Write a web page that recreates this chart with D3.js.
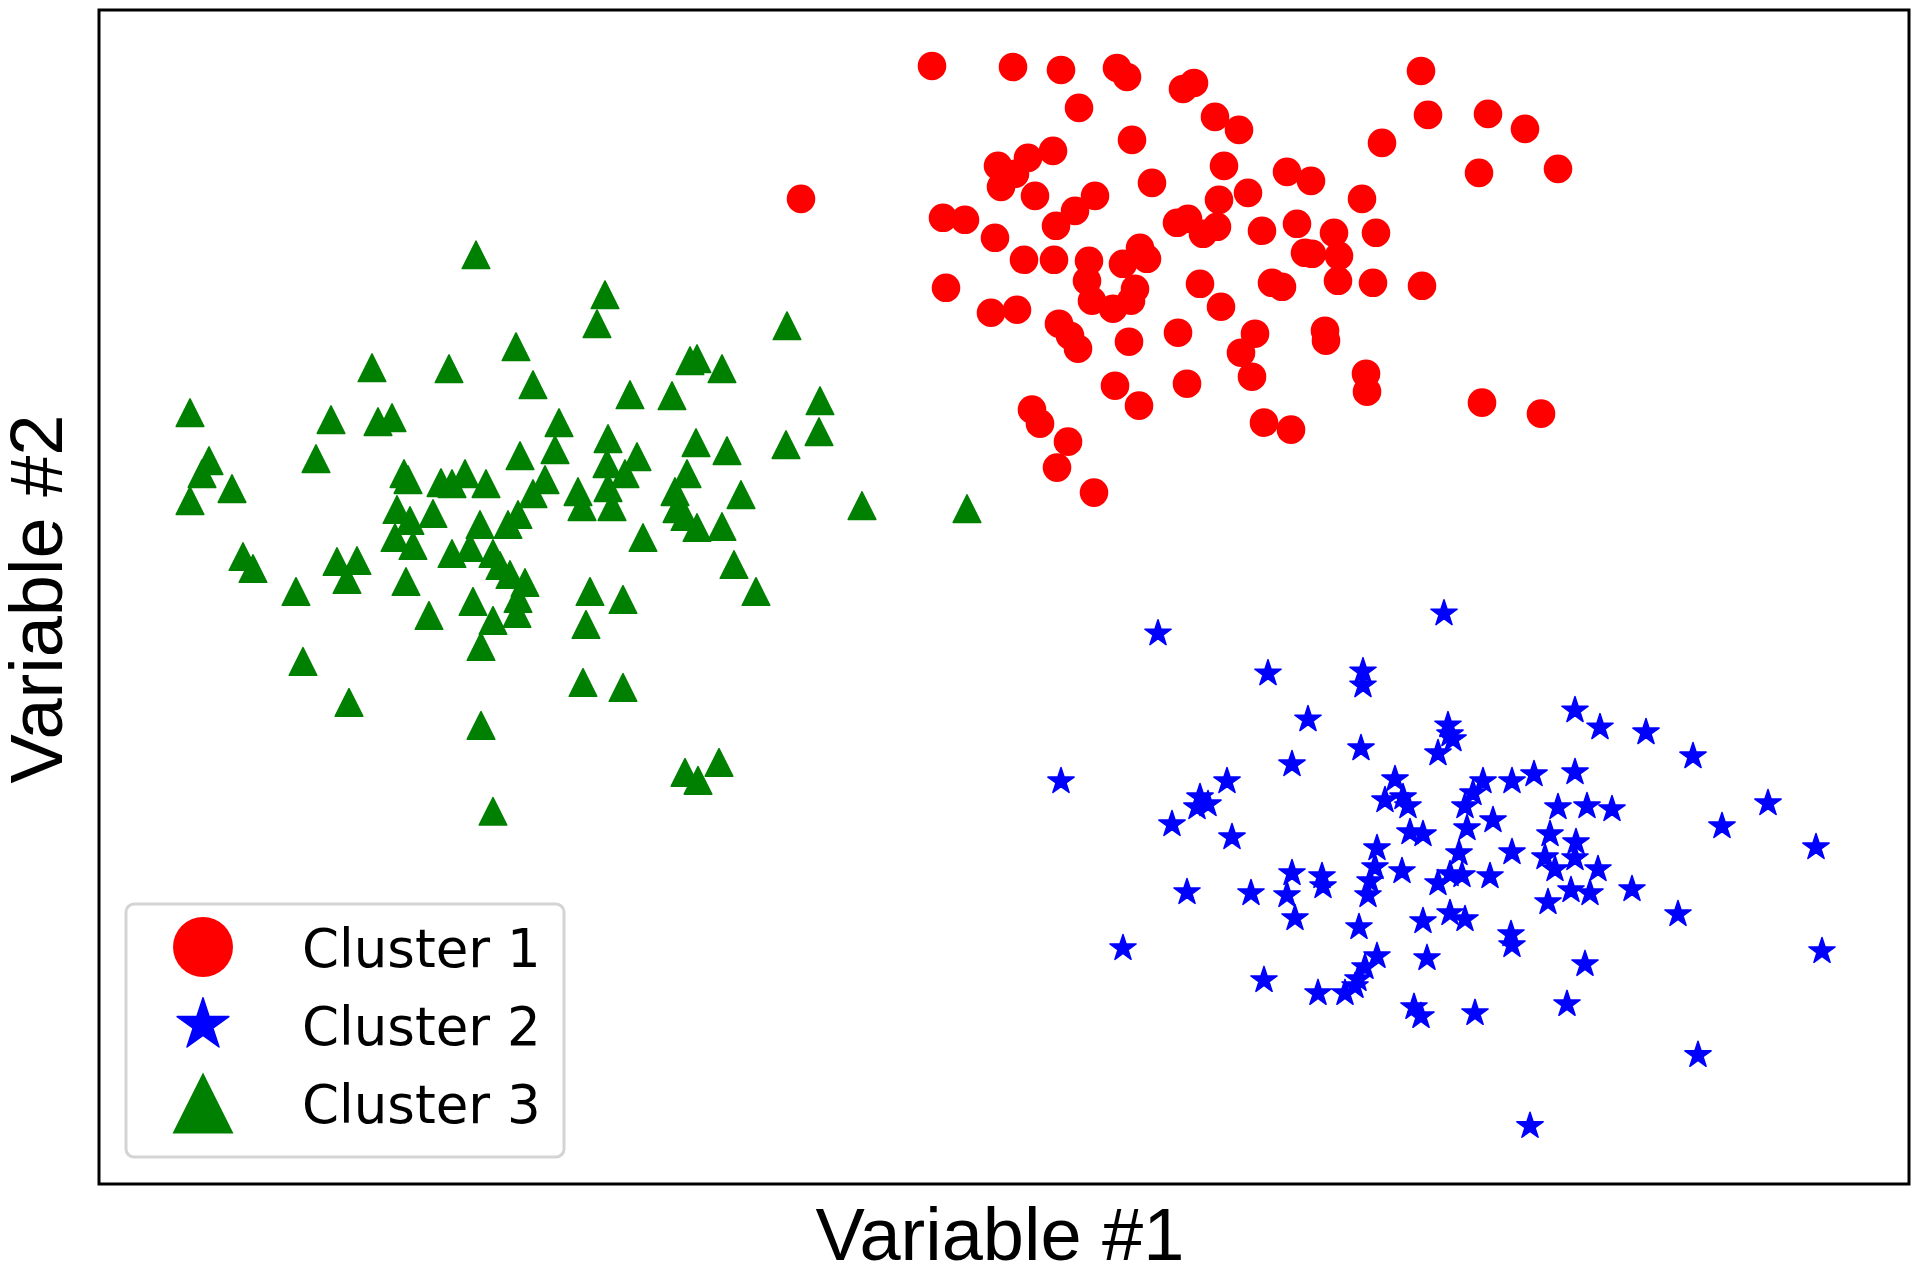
<!DOCTYPE html>
<html><head><meta charset="utf-8">
<script src="https://cdn.jsdelivr.net/npm/d3@7"></script>
<style>html,body{margin:0;padding:0;background:#fff;}svg{display:block;}</style>
</head><body>
<svg id="chart" width="1920" height="1269"></svg>
<script>
// ---- data ----
const seriesNames = ["Cluster 1", "Cluster 2", "Cluster 3"];
const seriesColors = ["#ff0000", "#0000ff", "#008000"];
const xAxisTitle = "Variable #1";
const yAxisTitle = "Variable #2";
const xDomain = [-0.01, 18.09];
const yDomain = [0.16, 11.91];

const cluster1 = [
[8.32,11.35],[9.13,11.34],[9.61,11.31],[10.17,11.33],[10.27,11.24],[9.79,10.93],[10.32,10.61],[7.01,10.02],
[8.98,10.35],[9.28,10.43],[9.53,10.50],[9.15,10.27],[9.01,10.14],[10.52,10.18],[9.35,10.05],[9.95,10.05],
[9.75,9.90],[9.56,9.75],[8.43,9.83],[8.65,9.81],[8.95,9.63],[9.24,9.41],[9.54,9.41],[9.89,9.40],
[10.40,9.53],[10.47,9.42],[10.23,9.37],[9.87,9.20],[10.35,9.12],[10.31,9.00],[9.92,9.00],[10.13,8.92],
[8.46,9.13],[8.91,8.88],[9.17,8.91],[9.59,8.77],[9.70,8.65],[9.78,8.52],[10.29,8.59],[10.15,8.15],
[10.39,7.95],[9.32,7.91],[9.40,7.77],[9.68,7.59],[9.57,7.33],[9.94,7.08],
[10.83,11.12],[10.94,11.18],[11.15,10.84],[11.39,10.71],[13.21,11.30],[13.28,10.86],[13.88,10.87],[14.25,10.72],
[12.82,10.58],[13.79,10.28],[14.58,10.32],[11.24,10.35],[11.87,10.29],[12.11,10.20],[12.62,10.02],[11.48,10.08],
[11.19,10.01],[10.77,9.78],[10.88,9.82],[11.03,9.67],[11.17,9.74],[11.62,9.70],[11.97,9.77],[12.34,9.68],
[12.76,9.68],[12.05,9.48],[12.12,9.47],[12.39,9.45],[12.38,9.20],[12.73,9.18],[13.22,9.15],[11.00,9.17],
[11.72,9.18],[11.82,9.14],[11.21,8.94],[10.78,8.68],[11.55,8.67],[11.41,8.48],[12.25,8.70],[12.26,8.60],
[10.87,8.17],[11.52,8.24],[12.66,8.27],[12.67,8.09],[13.82,7.98],[14.41,7.87],[11.64,7.78],[11.91,7.71]
];

const cluster2 = [
[10.58,5.67],[11.68,5.27],[12.63,5.29],[12.63,5.15],[12.08,4.81],[12.61,4.52],[11.92,4.36],[9.61,4.19],
[11.27,4.19],[11.00,4.03],[11.08,3.96],[10.97,3.93],[10.72,3.76],[11.32,3.63],[12.95,4.21],[12.85,4.00],
[13.03,4.03],[13.08,3.94],[13.10,3.68],[13.23,3.66],[12.77,3.52],[13.02,3.29],[12.75,3.33],[12.70,3.19],
[12.68,3.05],[11.92,3.27],[11.87,3.05],[11.95,2.82],[12.22,3.24],[12.23,3.14],[10.87,3.08],[11.51,3.07],
[12.59,2.73],[13.23,2.79],[10.23,2.52],[12.77,2.44],[12.65,2.33],[13.27,2.42],[11.64,2.20],[12.18,2.07],
[12.45,2.07],[12.55,2.14],[12.58,2.21],[13.14,1.93],[13.21,1.84],
[13.44,5.87],[14.75,4.90],[15.00,4.73],[15.46,4.68],[15.93,4.44],[16.68,3.97],[16.22,3.74],[17.16,3.53],
[13.48,4.75],[13.50,4.66],[13.53,4.61],[13.38,4.47],[13.83,4.19],[13.73,4.07],[13.65,3.94],[14.12,4.19],
[14.34,4.26],[14.75,4.28],[13.93,3.80],[13.67,3.72],[14.58,3.93],[14.87,3.94],[15.12,3.91],[14.50,3.66],
[14.76,3.58],[14.12,3.48],[13.59,3.47],[14.45,3.43],[14.55,3.31],[14.75,3.42],[14.98,3.31],[13.50,3.26],
[13.62,3.25],[13.38,3.17],[13.90,3.24],[14.71,3.10],[14.90,3.07],[15.32,3.11],[14.48,2.98],[15.78,2.86],
[13.50,2.87],[13.65,2.81],[14.11,2.66],[14.12,2.55],[14.85,2.36],[17.22,2.49],[14.67,1.96],[13.75,1.87],
[15.98,1.45],[14.30,0.74]
];

const cluster3 = [
[3.76,9.46],[4.16,8.54],[4.33,8.16],[2.72,8.33],[3.49,8.32],[0.90,7.88],[2.31,7.81],[2.78,7.79],
[2.92,7.83],[4.20,7.45],[1.09,7.40],[1.02,7.27],[0.90,7.00],[1.32,7.12],[2.16,7.42],[3.04,7.27],
[3.08,7.21],[3.41,7.18],[3.52,7.17],[3.65,7.27],[3.86,7.17],[2.97,6.91],[3.10,6.80],[3.33,6.87],
[4.45,7.21],[4.33,7.07],[4.18,6.86],[4.08,6.76],[3.80,6.76],[2.95,6.63],[3.13,6.55],[3.52,6.47],
[3.70,6.53],[3.93,6.47],[4.00,6.35],[4.10,6.26],[4.25,6.18],[4.18,6.02],[4.17,5.87],[1.43,6.44],
[1.53,6.32],[2.37,6.39],[2.57,6.40],[2.47,6.21],[1.96,6.09],[3.06,6.19],[3.29,5.85],[3.73,5.99],
[3.93,5.80],[3.81,5.54],[2.03,5.39],[2.49,4.98],[3.81,4.75],[3.93,3.89],
[5.05,9.06],[4.97,8.77],[6.87,8.75],[5.90,8.40],[5.97,8.42],[6.22,8.32],[5.30,8.06],[5.72,8.05],
[7.20,8.00],[4.59,7.78],[7.19,7.69],[6.86,7.56],[5.08,7.62],[4.55,7.51],[5.96,7.58],[6.27,7.50],
[5.37,7.44],[5.07,7.37],[5.25,7.27],[5.87,7.27],[5.08,7.13],[5.75,7.09],[4.78,7.09],[4.82,6.94],
[5.12,6.94],[6.41,7.06],[5.77,6.92],[5.85,6.84],[5.97,6.73],[6.22,6.74],[7.62,6.95],[8.67,6.92],
[5.43,6.63],[6.34,6.36],[6.56,6.09],[4.90,6.09],[5.23,6.01],[4.86,5.76],[4.83,5.18],[5.23,5.13],
[5.85,4.28],[5.98,4.20],[6.19,4.38]
];

// ---- drawing ----
const svg = d3.select("#chart");
const frame = {left: 99, right: 1909, top: 10, bottom: 1184};
const x = d3.scaleLinear().domain(xDomain).range([frame.left, frame.right]);
const y = d3.scaleLinear().domain(yDomain).range([frame.bottom, frame.top]);

function starPath(R) {
  const pts = [];
  for (let i = 0; i < 10; i++) {
    const a = -Math.PI / 2 + i * Math.PI / 5;
    const r = i % 2 === 0 ? R : R * 0.381966;
    pts.push([r * Math.cos(a), r * Math.sin(a)]);
  }
  return "M" + pts.map(p => p[0].toFixed(2) + "," + p[1].toFixed(2)).join("L") + "Z";
}
function triPath(h) {
  return `M0,${-h}L${-h},${h}L${h},${h}Z`;
}

svg.append("rect").attr("x", 0).attr("y", 0).attr("width", 1920).attr("height", 1269).attr("fill", "#fff");

const gPts = svg.append("g");
// cluster 1 circles
gPts.append("g").selectAll("circle").data(cluster1).join("circle")
  .attr("cx", d => x(d[0])).attr("cy", d => y(d[1])).attr("r", 14.3)
  .attr("fill", seriesColors[0]);
// cluster 2 stars
const sp = starPath(13.8);
gPts.append("g").selectAll("path").data(cluster2).join("path")
  .attr("d", sp).attr("transform", d => `translate(${x(d[0])},${y(d[1])})`)
  .attr("fill", seriesColors[1]).attr("stroke", seriesColors[1])
  .attr("stroke-width", 1.5).attr("stroke-linejoin", "round");
// cluster 3 triangles
const tp = triPath(13.8);
gPts.append("g").selectAll("path").data(cluster3).join("path")
  .attr("d", tp).attr("transform", d => `translate(${x(d[0])},${y(d[1])})`)
  .attr("fill", seriesColors[2]).attr("stroke", seriesColors[2])
  .attr("stroke-width", 1.5).attr("stroke-linejoin", "round");

// frame
svg.append("rect")
  .attr("x", frame.left).attr("y", frame.top)
  .attr("width", frame.right - frame.left).attr("height", frame.bottom - frame.top)
  .attr("fill", "none").attr("stroke", "#000").attr("stroke-width", 3);

// axis titles
svg.append("text").text(xAxisTitle)
  .attr("x", (frame.left + frame.right) / 2 - 4).attr("y", 1260)
  .attr("text-anchor", "middle")
  .attr("font-family", "'Liberation Sans', Arial, sans-serif")
  .attr("font-size", 74).attr("fill", "#000");
svg.append("text").text(yAxisTitle)
  .attr("transform", `translate(62,${(frame.top + frame.bottom) / 2 + 2}) rotate(-90)`)
  .attr("text-anchor", "middle")
  .attr("font-family", "'Liberation Sans', Arial, sans-serif")
  .attr("font-size", 74).attr("fill", "#000");

// legend
const lg = svg.append("g");
lg.append("rect").attr("x", 126).attr("y", 904).attr("width", 438).attr("height", 253)
  .attr("rx", 8).attr("ry", 8)
  .attr("fill", "#fff").attr("fill-opacity", 0.8)
  .attr("stroke", "#d4d4d4").attr("stroke-width", 3);
const rowY = [947, 1025, 1103];
const legendMarkers = [
  g => g.append("circle").attr("r", 30).attr("fill", seriesColors[0]),
  g => g.append("path").attr("d", starPath(27.2)).attr("fill", seriesColors[1])
        .attr("stroke", seriesColors[1]).attr("stroke-width", 1.5).attr("stroke-linejoin", "round"),
  g => g.append("path").attr("d", triPath(30.5)).attr("fill", seriesColors[2])
];
seriesNames.forEach((name, i) => {
  const g = lg.append("g").attr("transform", `translate(203,${rowY[i]})`);
  legendMarkers[i](g);
  lg.append("text").text(name)
    .attr("x", 302).attr("y", rowY[i] + 20)
    .attr("font-family", "'DejaVu Sans', sans-serif")
    .attr("font-size", 53).attr("fill", "#000");
});
</script>
</body></html>
